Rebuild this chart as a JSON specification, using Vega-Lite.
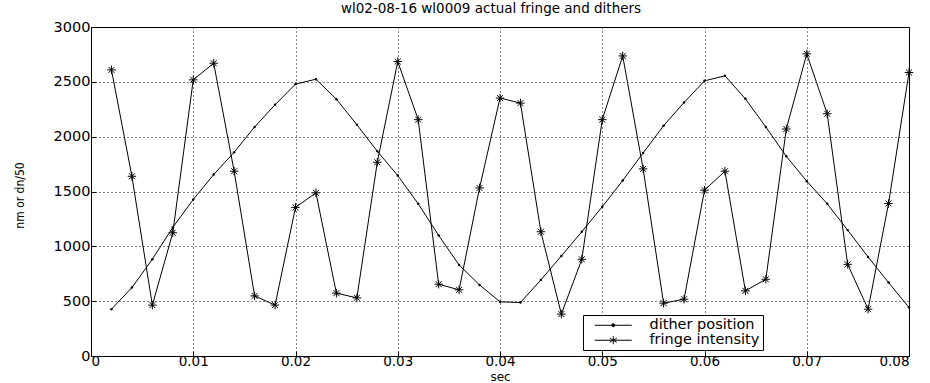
{
  "$schema": "https://vega.github.io/schema/vega-lite/v6.json",
  "width": 818,
  "height": 329,
  "autosize": {"type": "none"},
  "padding": {"left": 91, "top": 27, "right": 21, "bottom": 27},
  "background": "white",
  "title": {"text": "wl02-08-16 wl0009 actual fringe and dithers", "font": "DejaVu Sans", "fontSize": 13.5, "fontWeight": "normal", "color": "black", "offset": 4, "dx": -9},
  "config": {
    "view": {"stroke": "black", "strokeWidth": 1},
    "axis": {
      "domain": false,
      "grid": true,
      "gridColor": "black",
      "gridDash": [1, 3],
      "gridOpacity": 1,
      "gridWidth": 1,
      "ticks": true,
      "tickColor": "black",
      "tickSize": -5,
      "labelFont": "DejaVu Sans",
      "labelFontSize": 14.5,
      "labelColor": "black",
      "titleColor": "black",
      "titleFontWeight": "normal"
    }
  },
  "data": {"values": [
    {"t":0.002,"s":"dither position","v":427},{"t":0.004,"s":"dither position","v":624},{"t":0.006,"s":"dither position","v":882},{"t":0.008,"s":"dither position","v":1173},{"t":0.010,"s":"dither position","v":1427},{"t":0.012,"s":"dither position","v":1655},{"t":0.014,"s":"dither position","v":1858},{"t":0.016,"s":"dither position","v":2088},{"t":0.018,"s":"dither position","v":2291},{"t":0.020,"s":"dither position","v":2479},
    {"t":0.022,"s":"dither position","v":2524},{"t":0.024,"s":"dither position","v":2342},{"t":0.026,"s":"dither position","v":2109},{"t":0.028,"s":"dither position","v":1867},{"t":0.030,"s":"dither position","v":1645},{"t":0.032,"s":"dither position","v":1388},{"t":0.034,"s":"dither position","v":1100},{"t":0.036,"s":"dither position","v":830},{"t":0.038,"s":"dither position","v":648},{"t":0.040,"s":"dither position","v":494},
    {"t":0.042,"s":"dither position","v":488},{"t":0.044,"s":"dither position","v":694},{"t":0.046,"s":"dither position","v":912},{"t":0.048,"s":"dither position","v":1133},{"t":0.050,"s":"dither position","v":1361},{"t":0.052,"s":"dither position","v":1600},{"t":0.054,"s":"dither position","v":1852},{"t":0.056,"s":"dither position","v":2100},{"t":0.058,"s":"dither position","v":2312},{"t":0.060,"s":"dither position","v":2509},
    {"t":0.062,"s":"dither position","v":2555},{"t":0.064,"s":"dither position","v":2345},{"t":0.066,"s":"dither position","v":2088},{"t":0.068,"s":"dither position","v":1821},{"t":0.070,"s":"dither position","v":1594},{"t":0.072,"s":"dither position","v":1388},{"t":0.074,"s":"dither position","v":1148},{"t":0.076,"s":"dither position","v":903},{"t":0.078,"s":"dither position","v":670},{"t":0.080,"s":"dither position","v":442},
    {"t":0.002,"s":"fringe intensity","v":2609},{"t":0.004,"s":"fringe intensity","v":1639},{"t":0.006,"s":"fringe intensity","v":464},{"t":0.008,"s":"fringe intensity","v":1124},{"t":0.010,"s":"fringe intensity","v":2518},{"t":0.012,"s":"fringe intensity","v":2670},{"t":0.014,"s":"fringe intensity","v":1685},{"t":0.016,"s":"fringe intensity","v":548},{"t":0.018,"s":"fringe intensity","v":464},{"t":0.020,"s":"fringe intensity","v":1355},
    {"t":0.022,"s":"fringe intensity","v":1488},{"t":0.024,"s":"fringe intensity","v":573},{"t":0.026,"s":"fringe intensity","v":530},{"t":0.028,"s":"fringe intensity","v":1767},{"t":0.030,"s":"fringe intensity","v":2685},{"t":0.032,"s":"fringe intensity","v":2155},{"t":0.034,"s":"fringe intensity","v":655},{"t":0.036,"s":"fringe intensity","v":603},{"t":0.038,"s":"fringe intensity","v":1533},{"t":0.040,"s":"fringe intensity","v":2352},
    {"t":0.042,"s":"fringe intensity","v":2306},{"t":0.044,"s":"fringe intensity","v":1133},{"t":0.046,"s":"fringe intensity","v":382},{"t":0.048,"s":"fringe intensity","v":882},{"t":0.050,"s":"fringe intensity","v":2155},{"t":0.052,"s":"fringe intensity","v":2736},{"t":0.054,"s":"fringe intensity","v":1706},{"t":0.056,"s":"fringe intensity","v":482},{"t":0.058,"s":"fringe intensity","v":518},{"t":0.060,"s":"fringe intensity","v":1512},
    {"t":0.062,"s":"fringe intensity","v":1685},{"t":0.064,"s":"fringe intensity","v":594},{"t":0.066,"s":"fringe intensity","v":700},{"t":0.068,"s":"fringe intensity","v":2070},{"t":0.070,"s":"fringe intensity","v":2755},{"t":0.072,"s":"fringe intensity","v":2209},{"t":0.074,"s":"fringe intensity","v":836},{"t":0.076,"s":"fringe intensity","v":427},{"t":0.078,"s":"fringe intensity","v":1391},{"t":0.080,"s":"fringe intensity","v":2585}
  ]},
  "encoding": {
    "x": {"field": "t", "type": "quantitative", "scale": {"domain": [0, 0.08], "nice": false, "zero": false},
      "axis": {"title": "sec", "titleFont": "DejaVu Sans", "titleFontSize": 12, "titleY": 24, "titleBaseline": "alphabetic", "values": [0, 0.01, 0.02, 0.03, 0.04, 0.05, 0.06, 0.07, 0.08], "format": ".2~f", "labelPadding": 3, "labelFontSize": 13.5}},
    "y": {"field": "v", "type": "quantitative", "scale": {"domain": [0, 3000], "nice": false},
      "axis": {"title": "nm or dn/50", "titleFont": "Liberation Sans Narrow, DejaVu Sans Condensed, Roboto Condensed, Liberation Sans, sans-serif", "titleFontSize": 12, "titleX": -72, "titleY": 168, "titleAlign": "center", "titleBaseline": "middle", "titleAngle": -90, "values": [0, 500, 1000, 1500, 2000, 2500, 3000], "format": "d", "labelPadding": 6}}
  },
  "layer": [
    {
      "mark": {"type": "line", "strokeWidth": 1},
      "encoding": {
        "color": {"field": "s", "type": "nominal", "scale": {"domain": ["dither position", "fringe intensity"], "range": ["black", "black"]},
          "legend": {"orient": "none", "legendX": 492, "legendY": 288, "title": null, "symbolSize": 100, "symbolOffset": 20, "symbolStrokeWidth": 1, "symbolStrokeColor": "black", "symbolFillColor": "black", "labelFont": "DejaVu Sans", "labelFontSize": 14.5, "labelColor": "black", "strokeColor": "black", "fillColor": "white", "padding": 3, "rowPadding": 0, "labelOffset": 29,
            "encode": {"symbols": {"update": {"shape": {"signal": "datum.value == 'dither position' ? 'M-3.7,0H3.7M-0.3,0A0.3,0.3 0 1,0 0.3,0A0.3,0.3 0 1,0 -0.3,0' : 'M-3.7,0H3.7M0,-0.8V0.8M-0.7,-0.4L0.7,0.4M-0.7,0.4L0.7,-0.4'"}}}}}}
      }
    },
    {
      "transform": [{"filter": "datum.s == 'dither position'"}],
      "mark": {"type": "point", "shape": "circle", "filled": true, "fill": "black", "size": 6, "opacity": 1}
    },
    {
      "transform": [{"filter": "datum.s == 'fringe intensity'"}],
      "mark": {"type": "point", "shape": "M-1,0H1M0,-1V1M-0.7,-0.7L0.7,0.7M-0.7,0.7L0.7,-0.7", "filled": false, "stroke": "black", "strokeWidth": 1, "size": 72, "opacity": 1}
    }
  ]
}
